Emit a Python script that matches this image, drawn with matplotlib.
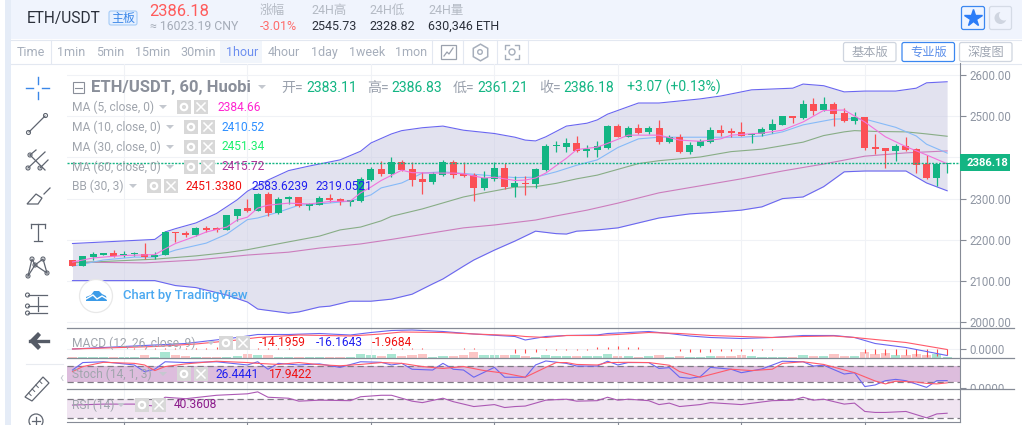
import matplotlib
matplotlib.use('Agg')
import matplotlib.pyplot as plt
import numpy as np
from matplotlib.patches import Rectangle, Circle, FancyBboxPatch, Polygon
from matplotlib.transforms import Bbox

plt.rcParams['font.family'] = ['Roboto', 'Noto Sans CJK SC', 'DejaVu Sans']

W, H = 1022, 425

# candles, oldest first
opens = [2151,2137,2158,2164,2168,2162,2165,2165,2159,2163,2219,2216,2212,2227,2228,2225,2258,2277,2270,2311,2264,2298,2303,2283,2285,2301,2298,2292,2293,2345,2371,2360,2388,2372,2348,2340,2358,2388,2360,2357,2326,2348,2374,2328,2338,2335,2369,2427,2426,2435,2416,2417,2424,2476,2450,2471,2461,2471,2437,2449,2413,2428,2438,2466,2462,2462,2454,2457,2466,2479,2500,2496,2530,2515,2530,2508,2489,2498,2425,2423,2416,2428,2420,2385,2351,2383.11]
highs = [2151,2161,2171,2169,2175,2173,2171,2193,2171,2221,2219,2221,2230,2233,2232,2260,2276,2299,2313,2316,2303,2307,2305,2290,2306,2311,2302,2296,2352,2377,2391,2401,2394,2388,2364,2365,2394,2393,2388,2361,2366,2388,2386,2354,2356,2374,2432,2440,2446,2452,2430,2439,2479,2480,2476,2481,2476,2491,2454,2458,2438,2444,2474,2479,2471,2487,2460,2475,2493,2500,2500,2539,2544,2546,2534,2519,2509,2498,2457,2423,2433,2449,2423,2405,2385,2386.83]
lows = [2137,2137,2151,2163,2159,2159,2161,2153,2153,2163,2194,2207,2209,2219,2219,2224,2246,2268,2270,2258,2263,2287,2280,2272,2284,2292,2284,2282,2292,2343,2355,2353,2368,2331,2311,2335,2356,2351,2353,2295,2321,2342,2323,2304,2309,2326,2368,2414,2413,2413,2401,2402,2420,2450,2449,2456,2458,2433,2434,2411,2408,2426,2436,2453,2450,2452,2436,2452,2460,2479,2484,2492,2503,2513,2477,2487,2481,2419,2408,2375,2391,2416,2363,2348,2331,2361.21]
closes = [2137,2161,2165,2169,2161,2166,2166,2158,2162,2219,2216,2212,2229,2225,2225,2260,2276,2270,2311,2264,2299,2305,2283,2288,2301,2296,2292,2296,2348,2372,2359,2388,2369,2345,2340,2360,2389,2358,2355,2326,2350,2374,2328,2338,2336,2372,2428,2428,2435,2415,2420,2428,2476,2450,2471,2460,2471,2437,2449,2413,2430,2439,2466,2459,2460,2453,2458,2469,2481,2500,2496,2530,2513,2530,2505,2488,2498,2424,2421,2416,2428,2418,2382,2351,2385,2386.18]
last_price = 2386.18

# overlay lines, as (bar, value) read at the corners of each line
bb_up_bar = [0,8,9,10,12,14,16,17,19,21,23,26,28,29,31,32,34,36,38,41,43,44,45,46,48,50,51,52,55,57,61,63,66,70,71,73,75,77,80,82,83,85]
bb_up = [2191,2201,2219,2227,2241,2264,2297,2318,2345,2368,2379,2394,2415,2435,2457,2465,2472,2476,2466,2458,2449,2442,2440,2450,2476,2483,2491,2505,2532,2532,2542,2549,2564,2568,2578,2574,2559,2561,2561,2568,2581,2583.6]
bb_low_bar = [0,8,10,12,15,17,18,21,22,24,25,27,29,31,33,35,36,38,39,41,43,44,45,47,48,49,51,53,55,57,60,62,65,67,69,71,73,75,77,81,83,85]
bb_low = [2101,2101,2089,2084,2066,2049,2032,2022,2025,2037,2039,2051,2051,2056,2068,2093,2105,2136,2151,2175,2197,2209,2221,2215,2214,2221,2224,2229,2241,2253,2263,2266,2272,2280,2300,2304,2329,2365,2367,2367,2338,2319.05]
ma5_bar = [0,2,5,8,9,10,12,13,15,16,17,18,19,21,23,25,27,28,29,30,32,33,35,37,38,40,41,43,44,45,46,48,49,51,52,54,57,59,61,63,64,67,69,71,73,75,77,79,81,83,85]
ma5 = [2146,2156,2162,2164,2178,2191,2209,2219,2231,2248,2255,2277,2284,2289,2287,2293,2294,2314,2328,2344,2369,2363,2362,2362,2360,2350,2352,2344,2345,2350,2362,2398,2419,2425,2434,2454,2454,2442,2439,2445,2454,2459,2466,2486,2514,2515,2486,2450,2426,2406,2384.66]
ma10_bar = [0,3,6,8,10,13,15,17,18,20,22,24,27,29,30,32,34,36,38,40,43,45,47,49,51,53,55,57,61,65,67,69,71,74,76,77,80,82,83,85]
ma10 = [2136,2151,2158,2158,2175,2192,2214,2249,2253,2267,2284,2287,2294,2309,2326,2338,2362,2365,2361,2357,2351,2352,2365,2381,2394,2424,2445,2449,2449,2449,2452,2462,2479,2493,2494,2493,2473,2452,2432,2410.52]
ma30_bar = [0,8,12,15,17,21,24,26,28,30,31,34,38,40,43,45,47,49,51,55,57,61,64,67,71,73,75,76,78,81,83,85]
ma30 = [2144,2153,2161,2169,2176,2195,2209,2224,2231,2246,2257,2275,2304,2314,2328,2329,2337,2348,2357,2385,2392,2401,2414,2420,2437,2453,2462,2465,2463,2462,2457,2451.34]
ma60_bar = [0,7,12,17,21,24,26,28,31,33,36,38,41,45,47,50,53,57,61,65,69,73,77,81,85]
ma60 = [2146,2144,2151,2163,2170,2180,2185,2190,2201,2209,2221,2229,2236,2248,2258,2272,2289,2314,2331,2348,2367,2384,2403,2411,2415.72]

# volume bars along the bottom of the MACD pane
volumes = [3,3,3,3,3,3,3,10,3,18,9,8,3,3,3,5,6,14,10,9,3,3,3,3,3,3,3,3,13,9,6,13,6,9,14,3,6,8,9,18,9,9,9,9,6,3,9,6,6,6,6,6,13,6,6,3,6,9,3,6,3,3,6,6,6,9,6,3,3,3,3,9,6,6,12,6,6,18,12,15,10,9,14,9,12,3]

# MACD pane
macd_bar = [0,3,8,11,16,18,21,24,27,29,31,33,36,39,43,44,46,48,51,52,56,58,60,62,65,68,71,74,76,78,81,83,85]
macd_line = [0,3,8,11,23,29,29,31,28,33,37,38,35,30,25,18,25,27,28,31,35,31,26,23,21,23,27,27,23,11,3,-5,-13]
signal_bar = [0,8,12,16,18,22,27,30,32,36,39,43,44,46,48,51,53,56,59,62,65,68,71,74,76,79,81,83,85]
signal_line = [0,5,10,18,23,28,26,30,34,33,30,27,25,23,27,27,29,33,31,27,25,23,25,26,23,17,13,6,-1]
macd_hist = [0,0,0,1,1,1,2,2,2,3,3,3,3,3,4,4,4,4,3,3,2,2,1,1,1,1,1,0,1,1,1,2,2,2,2,1,1,1,2,2,1,1,1,-7,-7,-5,-2,-1,-1,-1,-1,4,5,6,5,5,1,0,0,-4,-5,-5,-5,-4,-4,-4,-4,-1,-1,0,0,1,1,1,1,0,1,-7,-9,-11,-12,-12,-13,-15,-14,-12]

# Stoch pane
stoch_k_bar = [0,1,3,6,7,8,9,11,14,17,18,19,20,22,24,26,28,30,31,32,33,35,36,37,38,39,41,42,44,45,46,48,49,51,52,53,54,56,57,58,59,60,61,62,64,65,67,69,71,72,73,75,76,77,78,79,80,81,83,84,85]
stoch_k = [66,94,97,85,60,69,97,94,97,85,97,69,91,85,89,76,97,95,85,91,69,66,91,69,66,39,76,39,39,85,100,91,81,81,99,85,94,94,72,75,39,35,41,76,69,56,70,99,97,81,84,51,56,4,10,26,31,26,1,26,26.44]
stoch_d_bar = [0,1,3,6,7,8,9,11,14,17,18,20,22,24,26,28,30,32,34,36,38,40,42,44,46,47,48,49,51,52,54,56,58,59,61,64,66,68,69,71,73,76,78,79,80,82,83,84,85]
stoch_d = [60,79,95,91,85,64,79,89,99,94,91,87,94,86,82,87,94,91,79,72,79,64,54,39,76,94,94,87,85,94,95,94,84,60,39,69,64,69,91,97,87,56,25,14,24,21,16,14,17.94]

# RSI pane
rsi_bar = [0,3,6,8,9,11,14,17,18,19,21,22,24,27,28,30,31,33,34,36,37,39,41,42,43,44,46,48,49,51,52,53,54,56,57,58,59,61,62,65,68,70,71,72,73,75,76,77,78,79,81,83,84,85]
rsi = [57,59,59,55,73,70,77,80,84,73,71,65,67,66,74,77,77,65,62,71,64,54,58,52,54,55,67,69,65,66,73,67,69,66,58,61,54,58,62,58,66,67,73,67,69,59,61,44,42,42,44,31,39,40.36]

price_ticks = [2600, 2500, 2400, 2300, 2200, 2100, 2000]
price_labels = ['2600.00', '2500.00', '', '2300.00', '2200.00', '2100.00', '2000.00']  # 2400 sits behind the price tag
time_ticks = [5, 17, 29, 41, 53, 65, 77]

intervals = ['1min', '5min', '15min', '30min', '1hour', '4hour', '1day', '1week', '1mon']
interval_x = [57, 96, 135, 180, 226, 268, 311, 349, 395]

GREEN = '#13b583'
RED = '#fb5055'
GREY = '#9aa1ad'
AXIS = '#868b96'
GRID = '#f0f2f6'
XLIM = (-0.534, 86.25)
LW = 0.8


def rect(left, top, right, bottom):
    return [left / W, 1 - bottom / H, (right - left) / W, (bottom - top) / H]


fig = plt.figure(figsize=(W / 100, H / 100), dpi=100, facecolor='white')

# background layer in pixel coordinates
bg = fig.add_axes([0, 0, 1, 1], zorder=0)
bg.set_xlim(0, W)
bg.set_ylim(H, 0)
bg.axis('off')
bg.add_patch(Rectangle((5, 0), 6, H, color='#e5ecf7', lw=0))
bg.add_patch(Rectangle((11, 0), W, 39, color='#f0f4fd', lw=0))
bg.add_patch(Rectangle((220, 40), 42, 23, color='#f1f5fb', lw=0))
bg.plot([11, W], [39.5, 39.5], color='#e3e8f1', lw=0.8)
bg.plot([11, W], [63.5, 63.5], color='#e3e8f1', lw=0.8)
for sx in [50.5, 432, 463, 497, 528]:
    bg.plot([sx, sx], [40, 63], color='#e3e8f1', lw=0.8)


def make_pane(top, bottom, ylim, ticks, labels):
    ax = fig.add_axes(rect(67, top, 960, bottom), zorder=1)
    ax.patch.set_alpha(0)
    ax.set_xlim(*XLIM)
    ax.set_ylim(*ylim)
    for name in ['left', 'top', 'bottom']:
        ax.spines[name].set_visible(False)
    ax.spines['right'].set_color(AXIS)
    ax.yaxis.tick_right()
    ax.set_yticks(ticks)
    ax.set_yticklabels(labels)
    ax.tick_params(axis='y', length=4, width=0.8, color=AXIS, labelcolor='#8f96a3',
                   labelsize=8.3, pad=3)
    ax.set_xticks(time_ticks)
    ax.set_xticklabels([])
    ax.tick_params(axis='x', length=0)
    ax.grid(axis='x', color=GRID, lw=0.8)
    ax.set_axisbelow(True)
    # price labels get cut off at the pane border
    clip = Bbox([[960, H - bottom], [W, H - top]])
    for lab in ax.get_yticklabels():
        lab.set_clip_box(clip)
        lab.set_clip_on(True)
    return ax


main = make_pane(63.5, 327.5, (1987.2, 2627.9), price_ticks, price_labels)
main.grid(axis='y', color=GRID, lw=0.8)

bars = list(range(len(closes)))

# bollinger band
band_x = sorted(set(bb_up_bar + bb_low_bar))
main.fill_between(band_x, np.interp(band_x, bb_up_bar, bb_up), np.interp(band_x, bb_low_bar, bb_low),
                  color='#c9c9e2', alpha=0.52, lw=0, zorder=1)
main.plot(bb_up_bar, bb_up, color='#6a66f0', lw=LW, zorder=2)
main.plot(bb_low_bar, bb_low, color='#6a66f0', lw=LW, zorder=2)
main.plot(ma60_bar, ma60, color='#cc7dbd', lw=LW, zorder=2)
main.plot(ma30_bar, ma30, color='#88ad86', lw=LW, zorder=2)
main.plot(ma10_bar, ma10, color='#86baf8', lw=LW, zorder=3)

# candles
for i in bars:
    col = GREEN if closes[i] >= opens[i] else RED
    main.vlines(i, lows[i], highs[i], color=col, lw=0.9, zorder=4)
    low_side = min(opens[i], closes[i])
    main.bar(i, max(abs(closes[i] - opens[i]), 3.0), bottom=low_side, width=0.68, color=col, lw=0, zorder=4)
main.plot(ma5_bar, ma5, color='#f272dc', lw=LW, zorder=5)
main.axhline(last_price, color=GREEN, lw=1.0, ls=(0, (1.5, 1)), zorder=6)

# MACD
vol_ax = fig.add_axes(rect(67, 327.5, 960, 358.3), zorder=1)
vol_ax.patch.set_alpha(0)
vol_ax.axis('off')
vol_ax.set_xlim(*XLIM)
vol_ax.set_ylim(0, 92)
vol_cols = ['#a9e6d2' if closes[i] >= opens[i] else '#fcc5c5' for i in bars]
vol_ax.bar(bars, volumes, width=0.9, color=vol_cols, lw=0)

macd_ax = make_pane(327.5, 358.3, (-18.6, 43), [0], ['0.0000'])
macd_ax.grid(axis='y', color=GRID, lw=0.8)
macd_ax.vlines(bars, 0, macd_hist, color='#ff4a4a', lw=0.8)
macd_ax.plot(macd_bar, macd_line, color='#6a66f0', lw=LW)
macd_ax.plot(signal_bar, signal_line, color='#ff5a6a', lw=LW)

# Stoch
stoch_ax = make_pane(358.3, 389.3, (-6.25, 110), [0], ['0.0000'])
stoch_ax.axhspan(20, 80, facecolor='#ddbddd', lw=0)
stoch_ax.axhline(80, color='#7f7a85', lw=0.9, ls=(0, (5, 3)))
stoch_ax.axhline(20, color='#7f7a85', lw=0.9, ls=(0, (5, 3)))
stoch_ax.plot(stoch_k_bar, stoch_k, color='#6a66f0', lw=LW)
stoch_ax.plot(stoch_d_bar, stoch_d, color='#ff5a6a', lw=LW)

# RSI
rsi_ax = make_pane(389.3, 421.5, (23.5, 89.2), [], [])
rsi_ax.axhspan(30, 70, facecolor='#f0e4f1', lw=0)
rsi_ax.axhline(70, color='#7f7a85', lw=0.9, ls=(0, (5, 3)))
rsi_ax.axhline(30, color='#7f7a85', lw=0.9, ls=(0, (5, 3)))
rsi_ax.plot(rsi_bar, rsi, color='#ac59b4', lw=LW)
rsi_ax.spines['bottom'].set_visible(True)
rsi_ax.spines['bottom'].set_color(AXIS)
rsi_ax.tick_params(axis='x', length=4, width=0.8, color=AXIS)

# everything on top of the panes, again in pixels
ui = fig.add_axes([0, 0, 1, 1], zorder=3)
ui.set_xlim(0, W)
ui.set_ylim(H, 0)
ui.axis('off')
ui.patch.set_alpha(0)


def label(x, y, s, color, size=12, weight='normal', **kw):
    ui.text(x, y, s, color=color, fontsize=size * 0.72, fontweight=weight, va='center', ha='left', **kw)


for y in [327.5, 358.3, 389.3]:
    ui.plot([67, 1014], [y, y], color=AXIS, lw=0.9)

# header
label(27, 18, 'ETH/USDT', '#2b303b', 15.5)
ui.add_patch(FancyBboxPatch((109, 11), 28, 14, boxstyle='round,pad=0,rounding_size=2', fc='#e6f0ff', ec='#a5cbf7', lw=0.8))
label(111, 18, '主板', '#3b87e8', 12)
label(149, 11, '2386.18', '#ff5b5b', 16.5)
label(150, 26.5, '≈ 16023.19 CNY', '#a5acb8', 12.3)
label(260, 10.5, '涨幅', '#b4bac4', 12.5)
label(260, 26.5, '-3.01%', '#ff6b6b', 12.5)
for x, head, val in [(311, '24H高', '2545.73'), (369, '24H低', '2328.82'), (428, '24H量', '630,346 ETH')]:
    label(x, 10.5, head, '#b4bac4', 12.5)
    label(x, 26.5, val, '#2b303b', 12.5)

# star + moon
ui.add_patch(FancyBboxPatch((961.5, 6.5), 23, 23, boxstyle='round,pad=0,rounding_size=2', fc='#eef4ff', ec='#3b87f0', lw=0.9))
ui.plot([973], [18], marker='*', ms=13, color='#2a7cf8', mec='#2a7cf8')
ui.add_patch(FancyBboxPatch((989.5, 6.5), 22, 23, boxstyle='round,pad=0,rounding_size=2', fc='#f0f4fd', ec='#d5dbe6', lw=0.9))
ui.add_patch(Circle((1000.5, 18), 6, color='#cfd5e0', lw=0))
ui.add_patch(Circle((1004, 15.5), 5, color='#f0f4fd', lw=0))

# toolbar
label(17, 52, 'Time', '#a6aebb', 12.5)
for x, name in zip(interval_x, intervals):
    label(x, 52, name, '#6d8ff0' if name == '1hour' else '#a6aebb', 12.5)
ui.add_patch(Rectangle((441, 45), 15, 14, fc='none', ec='#9aa1ad', lw=0.9))
ui.plot([444, 447, 449, 453], [56, 52, 54, 48], color='#9aa1ad', lw=0.9)
ui.plot([480], [52], marker='h', ms=12, mfc='none', mec='#a6aebb', mew=1.1)
ui.add_patch(Circle((480, 52), 2.3, fc='none', ec='#a6aebb', lw=1))
for cx, cy, dx, dy in [(505, 45, 1, 1), (519, 45, -1, 1), (505, 59, 1, -1), (519, 59, -1, -1)]:
    ui.plot([cx + 4 * dx, cx, cx], [cy, cy, cy + 4 * dy], color='#a6aebb', lw=1)
ui.add_patch(Circle((512, 52), 3, fc='none', ec='#a6aebb', lw=1))
for x0, x1, s, ec, tc in [(843.5, 896, '基本版', '#cfd5df', '#a0a7b3'), (902, 954.5, '专业版', '#3b87f0', '#5a8eea'), (959.5, 1012, '深度图', '#cfd5df', '#a0a7b3')]:
    ui.add_patch(FancyBboxPatch((x0, 42.5), x1 - x0, 19, boxstyle='round,pad=0,rounding_size=2', fc='white', ec=ec, lw=0.9))
    ui.text((x0 + x1) / 2, 52, s, color=tc, fontsize=8.8, ha='center', va='center')

# series title row
ui.add_patch(Rectangle((73, 82), 11, 11, fc='none', ec='#8a8f9a', lw=0.8))
ui.plot([75, 82], [87.5, 87.5], color='#8a8f9a', lw=0.8)
label(91, 87.5, 'ETH/USDT, 60, Huobi', '#8a8f9a', 16.6, 'bold')


def caret(x, y):
    ui.add_patch(Polygon([(x - 4, y - 2), (x + 4, y - 2), (x, y + 2)], color='#c4c8cf', lw=0))


def boxes(x1, x2, y):
    ui.add_patch(Rectangle((x1, y - 7), 14, 14, color='#d8d8d8', lw=0))
    ui.add_patch(Circle((x1 + 7, y), 3.2, fc='none', ec='white', lw=1.6))
    ui.add_patch(Rectangle((x2, y - 7), 14, 14, color='#d8d8d8', lw=0))
    ui.plot([x2 + 3, x2 + 11], [y - 4, y + 4], color='white', lw=1.1)
    ui.plot([x2 + 3, x2 + 11], [y + 4, y - 4], color='white', lw=1.1)


caret(262, 87)
for x, s, col in [(281, '开=', GREY), (306, '2383.11', GREEN), (367, '高=', GREY), (391, '2386.83', GREEN),
                  (453, '低=', GREY), (477, '2361.21', GREEN), (539, '收=', GREY), (563, '2386.18', GREEN),
                  (627, '+3.07 (+0.13%)', GREEN)]:
    label(x, 87.5, s, col, 14)

for y, s, cx, b1, b2, items in [
    (107, 'MA (5, close, 0)', 163, 177, 194, [(217, '2384.66', '#ff25d0')]),
    (127, 'MA (10, close, 0)', 170, 184, 201, [(222, '2410.52', '#2e8fff')]),
    (147, 'MA (30, close, 0)', 170, 184, 201, [(222, '2451.34', '#1cf06e')]),
    (167, 'MA (60, close, 0)', 170, 184, 201, [(222, '2415.72', '#b0359a')]),
    (186, 'BB (30, 3)', 133, 147, 164, [(186, '2451.3380', '#f01010'), (251, '2583.6239', '#2020f0'), (315, '2319.0521', '#2020f0')]),
    (343, 'MACD (12, 26, close, 9)', 211, 219, 236, [(259, '-14.1959', '#f01010'), (316, '-16.1643', '#2020f0'), (372, '-1.9684', '#f01010')]),
    (374, 'Stoch (14, 1, 3)', 163, 177, 194, [(216, '26.4441', '#2020f0'), (269, '17.9422', '#f01010')]),
    (405, 'RSI (14)', 121, 135, 152, [(174, '40.3608', '#8b1a8b')]),
]:
    label(72, y, s, '#a0a5ad', 12)
    caret(cx, y)
    boxes(b1, b2, y)
    for x, val, col in items:
        label(x, y, val, col, 12)

# last price tag
ui.add_patch(Rectangle((960, 154), 50, 17, color=GREEN, lw=0))
label(967, 162.5, '2386.18', 'white', 11.2, 'bold')

# tradingview mark
ui.add_patch(Circle((96, 296), 16.5, fc='white', ec='#e8e8e8', lw=0.9))
ui.add_patch(Polygon([(86, 301), (86, 297), (91, 295), (94, 291), (99, 291), (102, 294), (106, 296), (107, 301)], color='#3b9be8', lw=0))
ui.plot([86, 93, 97, 102, 107], [299, 295, 299, 296, 299], color='white', lw=1)
label(123, 296, 'Chart by TradingView', '#4ba8f0', 13, 'medium')

# left drawing tools
TOOL = '#5f6570'
for a, b in [((26, 88), (33, 88)), ((42, 88), (49, 88)), ((37.5, 77), (37.5, 84)), ((37.5, 92), (37.5, 99))]:
    ui.plot([a[0], b[0]], [a[1], b[1]], color='#3b87e8', lw=1)
ui.plot([29, 45], [132, 116], color=TOOL, lw=0.9)
for c in [(28.5, 132.5), (45.5, 115.5), (28, 168), (40, 168), (30, 155)]:
    ui.add_patch(Circle(c, 2, fc='white', ec=TOOL, lw=0.8))
for a, b in [((28, 168), (45, 152)), ((40, 168), (48, 160)), ((30, 155), (45, 170)), ((30, 155), (36, 150))]:
    ui.plot([a[0], b[0]], [a[1], b[1]], color=TOOL, lw=0.9)
ui.add_patch(Polygon([(27, 204), (36, 194), (42, 198), (38, 204)], fc='white', ec=TOOL, lw=0.9))
ui.plot([44, 50], [194, 188], color=TOOL, lw=0.9)
ui.plot([31, 45], [224, 224], color=TOOL, lw=0.9)
ui.plot([31, 31], [224, 228], color=TOOL, lw=0.9)
ui.plot([45, 45], [224, 228], color=TOOL, lw=0.9)
ui.plot([38, 38], [224, 240], color=TOOL, lw=0.9)
ui.plot([34, 42], [240.5, 240.5], color=TOOL, lw=0.9)
pts = [(28, 276), (32, 259), (35, 265), (43, 259), (47, 273)]
ui.plot([p[0] for p in pts], [p[1] for p in pts], color=TOOL, lw=0.9)
ui.plot([28, 35, 47], [276, 265, 273], color=TOOL, lw=0.9)
for p in pts:
    ui.add_patch(Circle(p, 2, fc='white', ec=TOOL, lw=0.8))
for y in [295, 306, 313]:
    ui.plot([28, 47], [y, y], color=TOOL, lw=0.9)
    ui.add_patch(Circle((27.5, y), 2, fc='white', ec=TOOL, lw=0.8))
ui.plot([37.5, 37.5], [297, 311], color=TOOL, lw=0.9)
ui.plot([26, 63], [364, 364], color='#e8ebf0', lw=0.8)
ui.plot([30, 48], [341, 341], color='#555b66', lw=2.4)
ui.add_patch(Polygon([(29, 341), (38, 332), (41, 335), (36, 341), (41, 347), (38, 350)], color='#555b66', lw=0))
ui.add_patch(Polygon([(25, 397), (43, 377), (49, 383), (32, 401)], fc='white', ec=TOOL, lw=0.9))
for t in [0.2, 0.4, 0.6, 0.8]:
    ui.plot([25 + 18 * t, 27.5 + 18 * t], [397 - 20 * t, 399.5 - 20 * t], color=TOOL, lw=0.7)
ui.add_patch(Circle((36, 421), 7, fc='white', ec=TOOL, lw=0.9))
ui.plot([32, 40], [421, 421], color=TOOL, lw=0.9)
ui.plot([36, 36], [417, 425], color=TOOL, lw=0.9)
ui.text(61, 378, '‹', color='#c4c8cf', fontsize=10, ha='center', va='center')

fig.savefig('out.png', dpi=100, facecolor='white')
